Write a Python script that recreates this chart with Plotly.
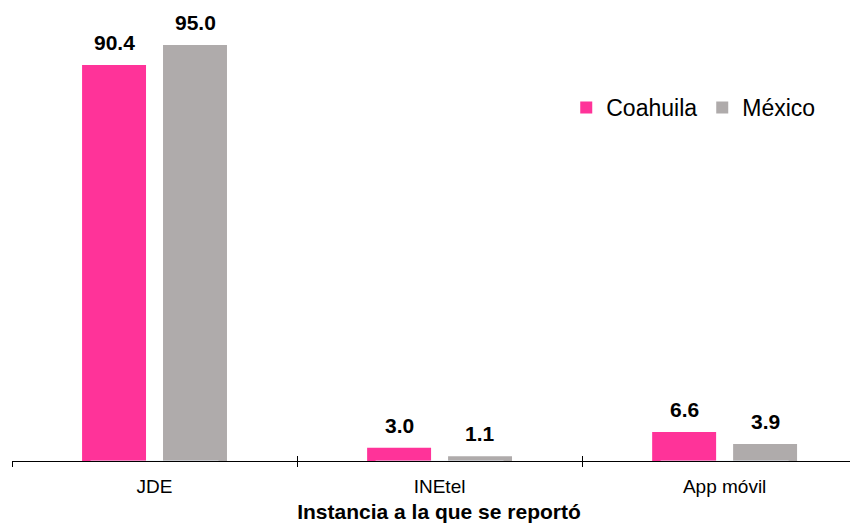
import plotly.graph_objects as go

categories = ["JDE", "INEtel", "App móvil"]
coahuila = [90.4, 3.0, 6.6]
mexico = [95.0, 1.1, 3.9]
series_names = ["Coahuila", "México"]

pink = "#FF3399"
gray = "#AFABAB"
FONT = "Liberation Sans, Arial, sans-serif"

BARGAP = 0.432
BARGROUPGAP = 0.21

fig = go.Figure()
for name, vals, col in [(series_names[0], coahuila, pink), (series_names[1], mexico, gray)]:
    fig.add_trace(go.Bar(
        x=categories, y=vals, name=name,
        marker=dict(color=col, line=dict(width=0)),
        hovertemplate="%{x}: %{y:.1f}<extra>" + name + "</extra>",
    ))

# value labels above each bar (bar centre offset = group width / 4)
off = (1 - BARGAP) / 4
annotations = []
for sign, vals in [(-1, coahuila), (1, mexico)]:
    for i, v in enumerate(vals):
        annotations.append(dict(
            x=i + sign * off, y=v, xref="x", yref="y", text=f"<b>{v:.1f}</b>",
            showarrow=False, yanchor="bottom", xanchor="center", yshift=9,
            font=dict(family=FONT, size=21, color="#000000"),
        ))

# invisible trace to enable overlay axis for inside ticks
fig.add_trace(go.Bar(x=categories, y=[0, 0, 0], xaxis="x2", showlegend=False,
                     hoverinfo="skip", marker=dict(color="rgba(0,0,0,0)")))

fig.update_layout(
    width=858, height=527,
    margin=dict(l=4, r=0, t=15, b=74, autoexpand=False),
    paper_bgcolor="white", plot_bgcolor="white",
    barmode="group", bargap=BARGAP, bargroupgap=BARGROUPGAP,
    font=dict(family=FONT, color="#000000"),
    annotations=annotations,
    legend=dict(orientation="h", x=0.649, y=0.807, xanchor="left", yanchor="middle",
                font=dict(size=23, color="#000000"),
                traceorder="normal", bgcolor="rgba(0,0,0,0)"),
    xaxis=dict(
        range=[-0.5, 2.496], type="category",
        showline=True, linecolor="#000000", linewidth=1.3,
        ticks="outside", tickson="boundaries", ticklen=5, tickcolor="#000000", tickwidth=1.3,
        ticklabelstandoff=8,
        tickfont=dict(size=19, color="#000000"),
        title=dict(text="<b>Instancia a la que se reportó</b>", font=dict(size=21, color="#000000"), standoff=8),
        showgrid=False, zeroline=False,
    ),
    xaxis2=dict(
        range=[-0.5, 2.496], type="category", overlaying="x", anchor="y", side="bottom",
        ticks="inside", tickson="boundaries", ticklen=5, tickcolor="#000000", tickwidth=1.3,
        showticklabels=False, showgrid=False, zeroline=False, showline=False,
    ),
    yaxis=dict(range=[0, 100], visible=False, showgrid=False, zeroline=False),
)

fig.write_html("out.html")
